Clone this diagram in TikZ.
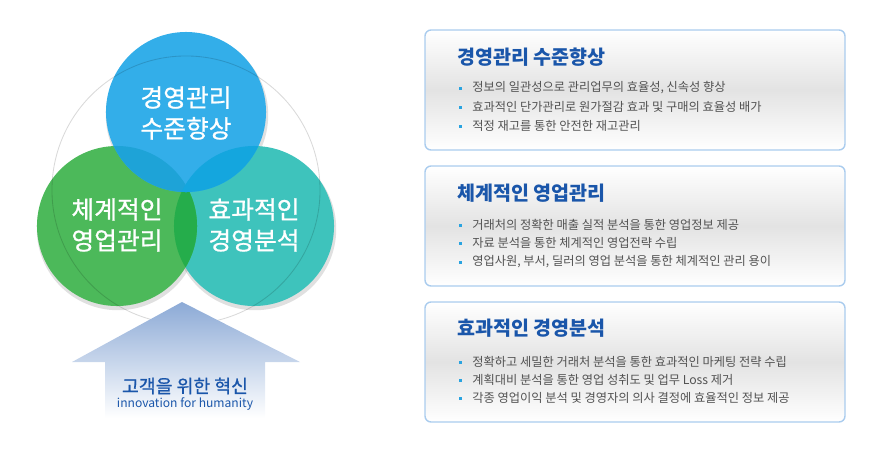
\documentclass[tikz,border=0pt]{standalone}
\usepackage{fontspec}
\setmainfont{Noto Sans CJK KR}
\newfontfamily\circlefont[FakeBold=0.9]{Noto Sans CJK KR}
\usetikzlibrary{positioning}

\begin{document}
\begin{tikzpicture}[x=0.025cm, y=-0.025cm, every node/.style={align=center, inner sep=0pt}]
      \definecolor{topblue}{RGB}{51,174,233} \definecolor{leftgreen}{RGB}{76,185,90}
      \definecolor{rightteal}{RGB}{62,195,188} \definecolor{greenteal}{RGB}{37,173,75}
      \definecolor{bluegreen}{RGB}{30,163,215} \definecolor{blueteal}{RGB}{20,166,222}
      \definecolor{arrowtop}{RGB}{140,170,214} \definecolor{titleblue}{RGB}{26,86,170}
      \definecolor{boxborder}{RGB}{170,204,238} \definecolor{bulletblue}{RGB}{41,163,224}
      \colorlet{itemgray}{black!68}
      \useasboundingbox (0,0) rectangle (880,450);
      % three circles
      \foreach \c in {(186,112),(117,226),(254,226)}
        \fill[black, opacity=0.12] \c ++(1,3) circle (2.03cm);
      \fill[rightteal] (254,226) circle (2cm);
      \fill[leftgreen] (117,226) circle (2cm);
      \begin{scope}
        \clip (117,226) circle (2cm);
        \fill[greenteal] (254,226) circle (2cm);
      \end{scope}
      \fill[topblue] (186,112) circle (2cm);
      \begin{scope}
        \clip (186,112) circle (2cm);
        \fill[bluegreen] (117,226) circle (2cm);
        \fill[blueteal] (254,226) circle (2cm);
      \end{scope}
      \draw[black, opacity=0.15, line width=0.6pt] (186,190) circle (3.35cm);
      \node[text=white, font=\circlefont\fontsize{17.6}{22}\selectfont] (quality) at (186,113) {경영관리\\수준향상};
      \node[text=white, font=\circlefont\fontsize{17.6}{22}\selectfont] (sales) at (117,225) {체계적인\\영업관리};
      \node[text=white, font=\circlefont\fontsize{17.6}{22}\selectfont] (analysis) at (254,225) {효과적인\\경영분석};
      % arrow
      \shade[top color=arrowtop, bottom color=white] (182,302) -- (300,362) -- (265,362) -- (265,418)
        -- (105,418) -- (105,362) -- (72,362) -- cycle;
      \node[text=titleblue, font=\circlefont\fontsize{13}{14}\selectfont] (innov) at (185,386) {고객을 위한 혁신};
      \node[text=titleblue, font=\fontsize{8.6}{9}\selectfont, below=2pt of innov] (humanity) {innovation for humanity};
      % boxes
      \draw[boxborder, line width=1pt, rounded corners=0.15cm, top color=white, bottom color=white, middle color=black!11]
        (425,30) rectangle (845,150);
      \node[anchor=west, text=titleblue, font=\bfseries\fontsize{13.9}{15}\selectfont] (qtitle) at (457,57) {경영관리 수준향상};
      \node[anchor=west, text=itemgray, font=\fontsize{8.7}{9}\selectfont] (q1) at (472,88) {정보의 일관성으로 관리업무의 효율성, 신속성 향상};
      \node[anchor=west, text=itemgray, font=\fontsize{8.7}{9}\selectfont] (q2) at (472,107) {효과적인 단가관리로 원가절감 효과 및 구매의 효율성 배가};
      \node[anchor=west, text=itemgray, font=\fontsize{8.7}{9}\selectfont] (q3) at (472,126) {적정 재고를 통한 안전한 재고관리};
      \draw[boxborder, line width=1pt, rounded corners=0.15cm, top color=white, bottom color=white, middle color=black!11]
        (425,166) rectangle (845,286);
      \node[anchor=west, text=titleblue, font=\bfseries\fontsize{13.9}{15}\selectfont] (stitle) at (457,193) {체계적인 영업관리};
      \node[anchor=west, text=itemgray, font=\fontsize{8.7}{9}\selectfont] (s1) at (472,225) {거래처의 정확한 매출 실적 분석을 통한 영업정보 제공};
      \node[anchor=west, text=itemgray, font=\fontsize{8.7}{9}\selectfont] (s2) at (472,243) {자료 분석을 통한 체계적인 영업전략 수립};
      \node[anchor=west, text=itemgray, font=\fontsize{8.7}{9}\selectfont] (s3) at (472,262) {영업사원, 부서, 딜러의 영업 분석을 통한 체계적인 관리 용이};
      \draw[boxborder, line width=1pt, rounded corners=0.15cm, top color=white, bottom color=white, middle color=black!11]
        (425,302) rectangle (845,422);
      \node[anchor=west, text=titleblue, font=\bfseries\fontsize{13.9}{15}\selectfont] (atitle) at (457,328) {효과적인 경영분석};
      \node[anchor=west, text=itemgray, font=\fontsize{8.7}{9}\selectfont] (a1) at (472,362) {정확하고 세밀한 거래처 분석을 통한 효과적인 마케팅 전략 수립};
      \node[anchor=west, text=itemgray, font=\fontsize{8.7}{9}\selectfont] (a2) at (472,380) {계획대비 분석을 통한 영업 성취도 및 업무 Loss 제거};
      \node[anchor=west, text=itemgray, font=\fontsize{8.7}{9}\selectfont] (a3) at (472,398) {각종 영업이익 분석 및 경영자의 의사 결정에 효율적인 정보 제공};
      \foreach \y in {88,107,126,225,243,262,362,380,398}
        \fill[bulletblue] (459,\y-1.5) rectangle +(3,3);
    \end{tikzpicture}
\end{document}
